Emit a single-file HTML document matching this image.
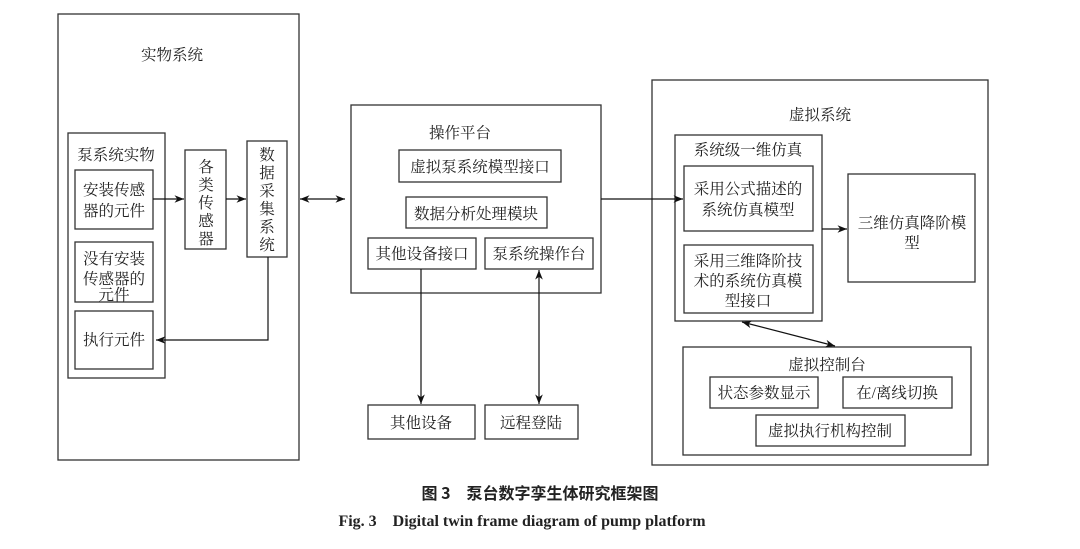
<!DOCTYPE html>
<html><head><meta charset="utf-8"><style>
html,body{margin:0;padding:0;background:#fff;}
svg{display:block;}
text{font-family:"Liberation Serif","Noto Serif CJK SC","Noto Sans CJK SC",serif;fill:#222;}
</style></head><body>
<svg width="1080" height="549" viewBox="0 0 1080 549" xmlns="http://www.w3.org/2000/svg">
<defs>
<marker id="a" viewBox="0 0 10 10" refX="10" refY="5" markerWidth="8" markerHeight="8" orient="auto-start-reverse"><path d="M0,1 L10,5 L0,9 L3,5z" fill="#111"/></marker>
</defs>
<g fill="none" stroke="#333" stroke-width="1.3">
<rect x="58" y="14" width="241" height="446"/>
<rect x="68" y="133" width="97" height="245"/>
<rect x="75" y="170" width="78" height="59"/>
<rect x="75" y="242" width="78" height="60"/>
<rect x="75" y="311" width="78" height="58"/>
<rect x="185" y="150" width="41" height="99"/>
<rect x="247" y="141" width="40" height="116"/>
<rect x="351" y="105" width="250" height="188"/>
<rect x="399" y="150" width="162" height="32"/>
<rect x="406" y="197" width="141" height="31"/>
<rect x="368" y="238" width="108" height="31"/>
<rect x="485" y="238" width="108" height="31"/>
<rect x="368" y="405" width="107" height="34"/>
<rect x="485" y="405" width="93" height="34"/>
<rect x="652" y="80" width="336" height="385"/>
<rect x="675" y="135" width="147" height="186"/>
<rect x="684" y="166" width="129" height="65"/>
<rect x="684" y="245" width="129" height="68"/>
<rect x="848" y="174" width="127" height="108"/>
<rect x="683" y="347" width="288" height="108"/>
<rect x="710" y="377" width="108" height="31"/>
<rect x="843" y="377" width="109" height="31"/>
<rect x="756" y="415" width="149" height="31"/>
</g>
<g fill="none" stroke="#111" stroke-width="1.2">
<line x1="153" y1="199" x2="184" y2="199" marker-end="url(#a)"/>
<line x1="226" y1="199" x2="246" y2="199" marker-end="url(#a)"/>
<polyline points="268,257 268,340 156,340" marker-end="url(#a)"/>
<line x1="300" y1="199" x2="345" y2="199" marker-start="url(#a)" marker-end="url(#a)"/>
<line x1="421" y1="269" x2="421" y2="404" marker-end="url(#a)"/>
<line x1="539" y1="270" x2="539" y2="404" marker-start="url(#a)" marker-end="url(#a)"/>
<line x1="601" y1="199" x2="683" y2="199" marker-end="url(#a)"/>
<line x1="822" y1="229" x2="847" y2="229" marker-end="url(#a)"/>
<line x1="742" y1="322" x2="835" y2="346" marker-start="url(#a)" marker-end="url(#a)"/>
</g>
<g font-size="15.5">
<text x="172" y="60" text-anchor="middle">实物系统</text>
<text x="116" y="160" text-anchor="middle">泵系统实物</text>
<text x="114" y="195" text-anchor="middle">安装传感</text>
<text x="114" y="216" text-anchor="middle">器的元件</text>
<text x="114" y="264" text-anchor="middle">没有安装</text>
<text x="114" y="284" text-anchor="middle">传感器的</text>
<text x="114" y="300" text-anchor="middle">元件</text>
<text x="114" y="345" text-anchor="middle">执行元件</text>
<text x="206" y="172" text-anchor="middle">各</text>
<text x="206" y="190" text-anchor="middle">类</text>
<text x="206" y="208" text-anchor="middle">传</text>
<text x="206" y="226" text-anchor="middle">感</text>
<text x="206" y="244" text-anchor="middle">器</text>
<text x="267" y="160" text-anchor="middle">数</text>
<text x="267" y="178" text-anchor="middle">据</text>
<text x="267" y="196" text-anchor="middle">采</text>
<text x="267" y="214" text-anchor="middle">集</text>
<text x="267" y="232" text-anchor="middle">系</text>
<text x="267" y="250" text-anchor="middle">统</text>
<text x="460" y="138" text-anchor="middle">操作平台</text>
<text x="480" y="172" text-anchor="middle">虚拟泵系统模型接口</text>
<text x="476" y="219" text-anchor="middle">数据分析处理模块</text>
<text x="422" y="259" text-anchor="middle">其他设备接口</text>
<text x="539" y="259" text-anchor="middle">泵系统操作台</text>
<text x="421" y="428" text-anchor="middle">其他设备</text>
<text x="531" y="428" text-anchor="middle">远程登陆</text>
<text x="820" y="120" text-anchor="middle">虚拟系统</text>
<text x="748" y="155" text-anchor="middle">系统级一维仿真</text>
<text x="748" y="194" text-anchor="middle">采用公式描述的</text>
<text x="748" y="215" text-anchor="middle">系统仿真模型</text>
<text x="748" y="266" text-anchor="middle">采用三维降阶技</text>
<text x="748" y="286" text-anchor="middle">术的系统仿真模</text>
<text x="748" y="306" text-anchor="middle">型接口</text>
<text x="912" y="228" text-anchor="middle">三维仿真降阶模</text>
<text x="912" y="248" text-anchor="middle">型</text>
<text x="827" y="370" text-anchor="middle">虚拟控制台</text>
<text x="764" y="398" text-anchor="middle">状态参数显示</text>
<text x="897" y="398" text-anchor="middle">在/离线切换</text>
<text x="830" y="436" text-anchor="middle">虚拟执行机构控制</text>
</g>
<text x="540" y="499" text-anchor="middle" font-size="16" font-weight="bold" style='font-family:"Noto Sans CJK SC",sans-serif'>图 3　泵台数字孪生体研究框架图</text>
<text x="522" y="526" text-anchor="middle" font-size="16" font-weight="bold">Fig. 3　Digital twin frame diagram of pump platform</text>
</svg>
</body></html>
